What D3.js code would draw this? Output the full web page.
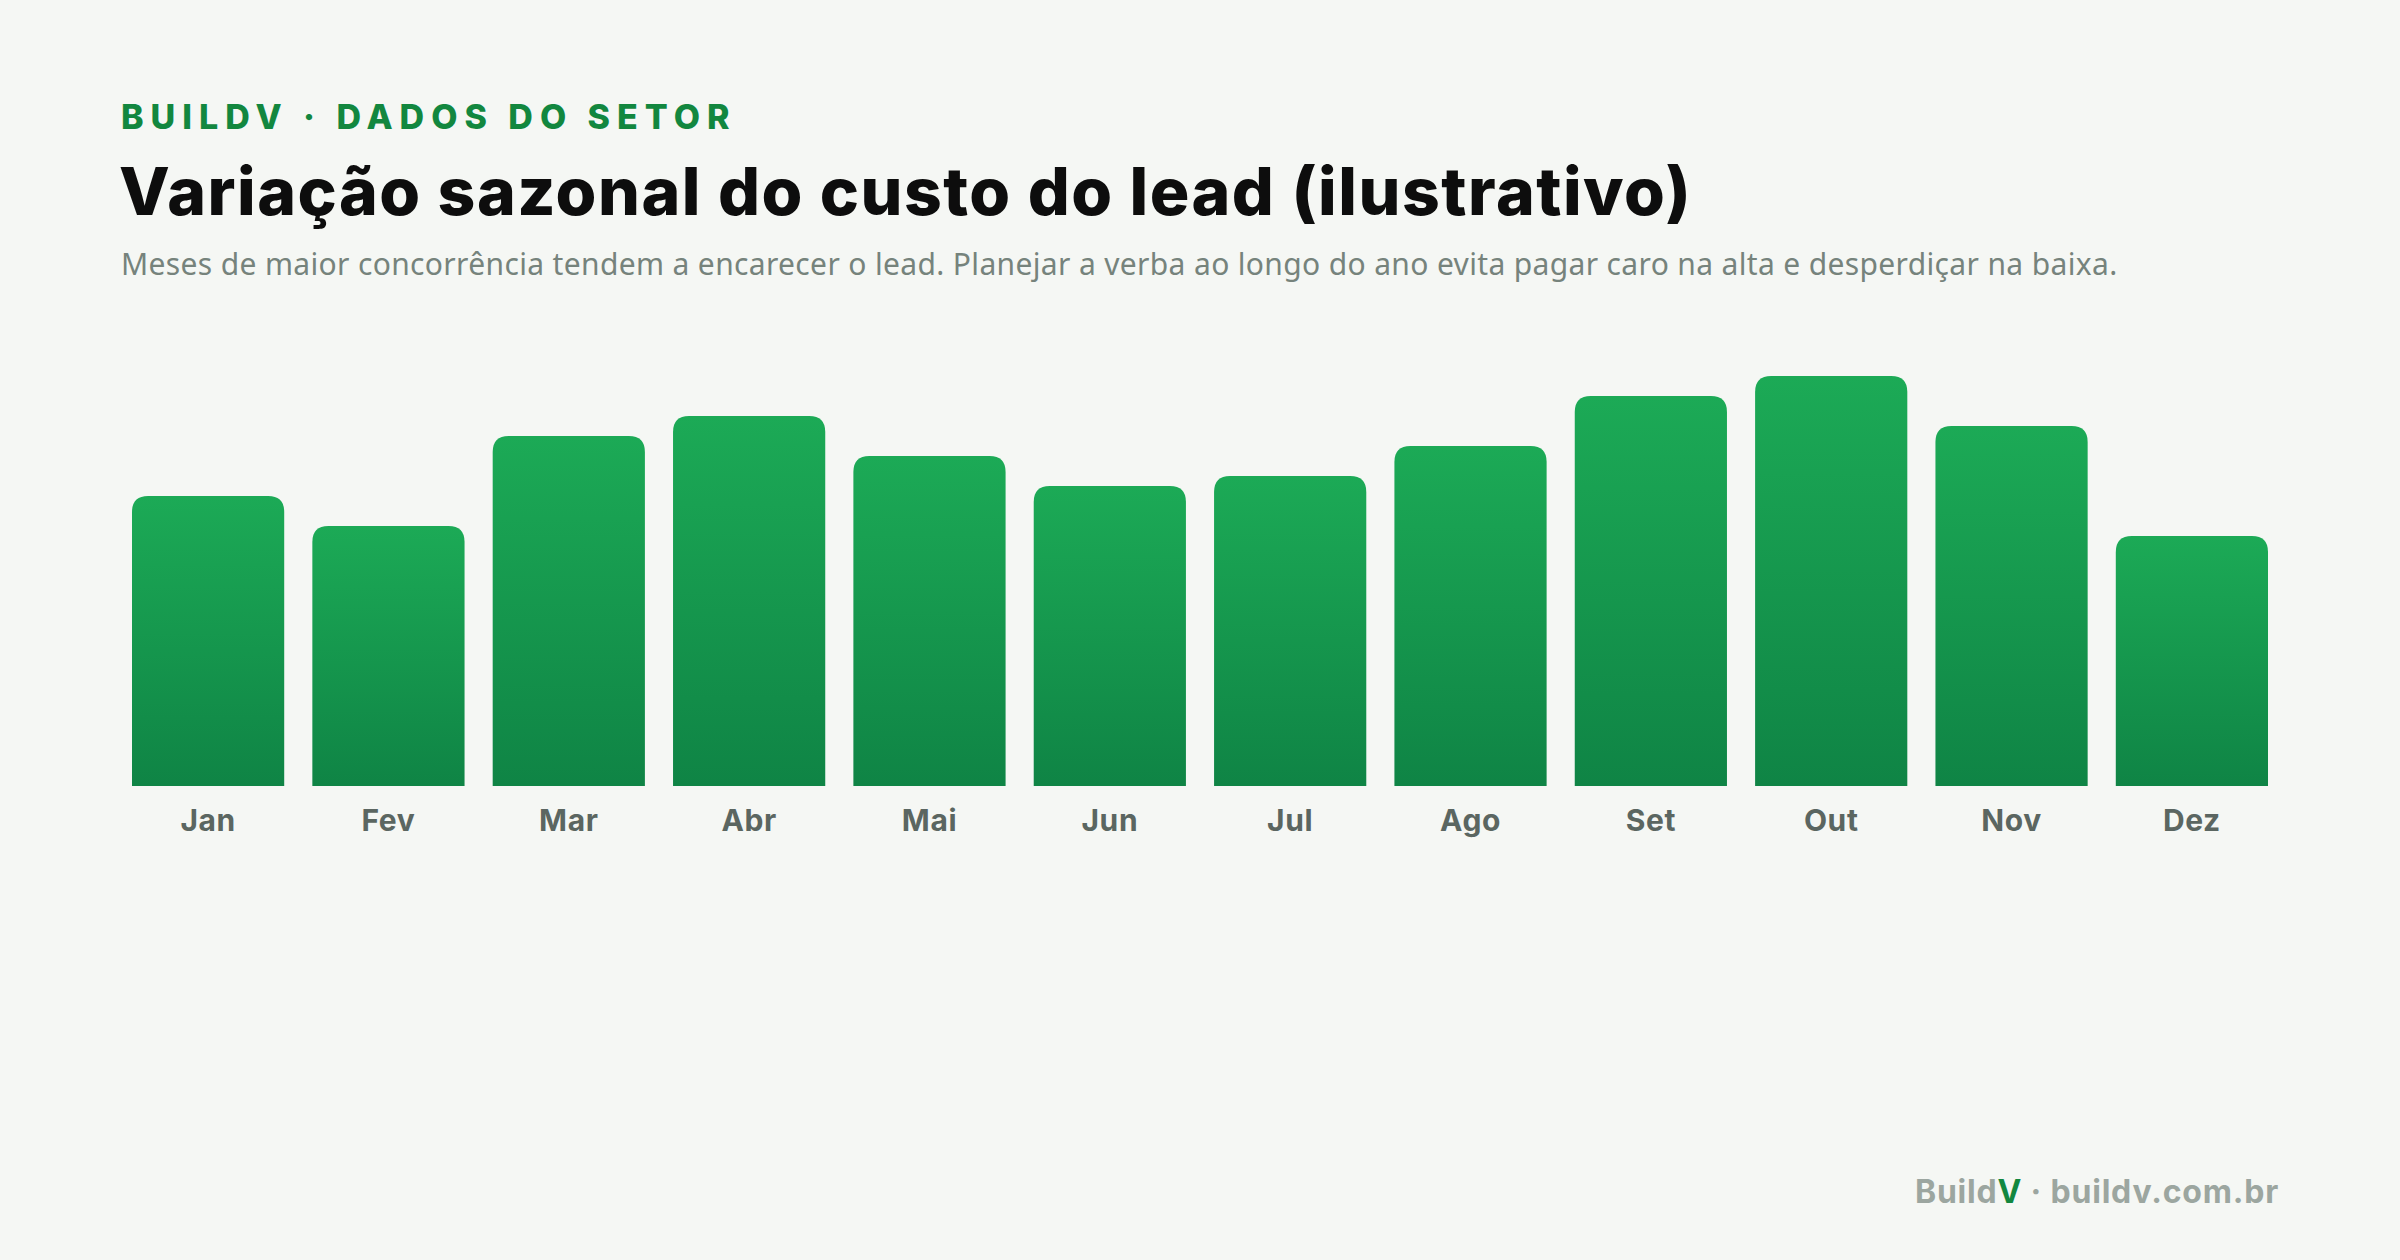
<!DOCTYPE html>
<html lang="pt-BR">
<head>
<meta charset="UTF-8">
<title>Variação sazonal do custo do lead</title>
<script src="https://d3js.org/d3.v7.min.js"></script>
<style>
  html, body { margin: 0; padding: 0; background: #f5f7f4; }
  svg { display: block; }
  .kicker { font-family: Inter, sans-serif; font-weight: 800; fill: #12873f; }
  .title { font-family: Inter, sans-serif; font-weight: 800; fill: #0d0d0d; }
  .sub { font-family: "Noto Sans", sans-serif; fill: #76837c; }
  .axis text { font-family: Inter, sans-serif; font-weight: 700; fill: #5b6661; }
  .foot { font-family: Inter, sans-serif; font-weight: 700; fill: #9ca6a0; }
</style>
</head>
<body>
<svg id="chart" width="2400" height="1260"></svg>
<script>
// dados (ilustrativos)
const months = ["Jan", "Fev", "Mar", "Abr", "Mai", "Jun", "Jul", "Ago", "Set", "Out", "Nov", "Dez"];
const leadCost = [58, 52, 70, 74, 66, 60, 62, 68, 78, 82, 72, 50];

const kicker = "BUILDV · DADOS DO SETOR";
const title = "Variação sazonal do custo do lead (ilustrativo)";
const subtitle = "Meses de maior concorrência tendem a encarecer o lead. Planejar a verba ao longo do ano evita pagar caro na alta e desperdiçar na baixa.";

const svg = d3.select("#chart");
const W = +svg.attr("width"), H = +svg.attr("height");

svg.append("rect").attr("width", W).attr("height", H).attr("fill", "#f5f7f4");

const defs = svg.append("defs");
const grad = defs.append("linearGradient")
  .attr("id", "barGrad").attr("x1", 0).attr("y1", 0).attr("x2", 0).attr("y2", 1);
grad.append("stop").attr("offset", "0%").attr("stop-color", "#1caa56");
grad.append("stop").attr("offset", "100%").attr("stop-color", "#0f8445");

// cabeçalho
svg.append("text").attr("class", "kicker")
  .attr("x", 121).attr("y", 129)
  .attr("font-size", 34).attr("letter-spacing", 7)
  .text(kicker);

svg.append("text").attr("class", "title")
  .attr("x", 119).attr("y", 215)
  .attr("font-size", 66).attr("letter-spacing", 1.5)
  .text(title);

svg.append("text").attr("class", "sub")
  .attr("x", 121).attr("y", 275)
  .attr("font-size", 30).attr("letter-spacing", 0.35)
  .text(subtitle);

// escalas
const baseY = 786;
const x = d3.scaleBand()
  .domain(months)
  .range([132, 2268])
  .paddingInner(0.156)
  .paddingOuter(0);

const y = d3.scaleLinear()
  .domain([0, 90])
  .range([baseY, 336]);

const r = 16;
function topRounded(x0, y0, w, h) {
  const rr = Math.min(r, h, w / 2);
  return `M${x0},${y0 + h}V${y0 + rr}Q${x0},${y0} ${x0 + rr},${y0}` +
         `H${x0 + w - rr}Q${x0 + w},${y0} ${x0 + w},${y0 + rr}V${y0 + h}Z`;
}

svg.append("g")
  .selectAll("path")
  .data(months.map((m, i) => ({ m, v: leadCost[i] })))
  .join("path")
  .attr("fill", "url(#barGrad)")
  .attr("d", d => topRounded(x(d.m), y(d.v), x.bandwidth(), baseY - y(d.v)));

// eixo x
const xAxis = svg.append("g")
  .attr("class", "axis")
  .attr("transform", `translate(0,${baseY})`)
  .call(d3.axisBottom(x).tickSize(0).tickPadding(24));
xAxis.select(".domain").remove();
xAxis.selectAll("text").attr("font-size", 30).attr("dy", "0.71em").attr("letter-spacing", 0.6);

// rodapé
const foot = svg.append("text").attr("class", "foot")
  .attr("x", 2279).attr("y", 1203)
  .attr("text-anchor", "end")
  .attr("font-size", 32).attr("letter-spacing", 0.8);
foot.append("tspan").text("Build");
foot.append("tspan").attr("fill", "#12873f").text("V");
foot.append("tspan").text(" · buildv.com.br");
</script>
</body>
</html>
